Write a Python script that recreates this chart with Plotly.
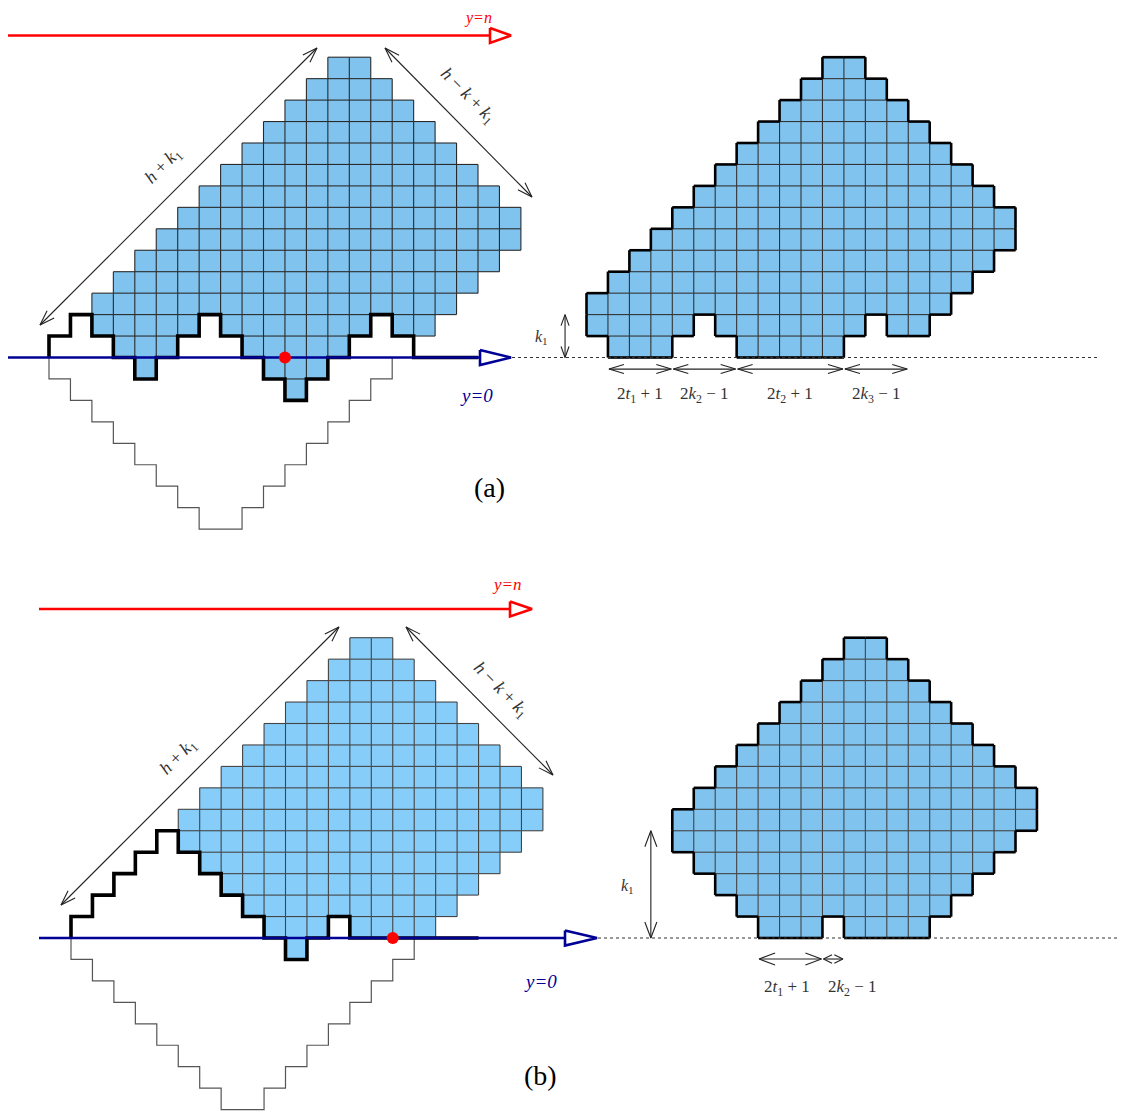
import math
import plotly.graph_objects as go

# ---------------- data (grid units: one unit = one cell) ----------------
# blue cells, as (row, first column, last column + 1); row 0 sits just above y=0
A_LEFT_ROWS = [(13, 13, 15), (12, 12, 16), (11, 11, 17), (10, 10, 18), (9, 9, 19),
               (8, 8, 20), (7, 7, 21), (6, 6, 22), (5, 5, 22), (4, 4, 21), (3, 3, 20),
               (2, 2, 19), (1, 2, 7), (1, 8, 15), (1, 16, 18), (0, 3, 6), (0, 9, 14),
               (-1, 4, 5), (-1, 10, 13), (-2, 11, 12)]
A_RIGHT_ROWS = [(13, 11, 13), (12, 10, 14), (11, 9, 15), (10, 8, 16), (9, 7, 17),
                (8, 6, 18), (7, 5, 19), (6, 4, 20), (5, 3, 20), (4, 2, 19), (3, 1, 18),
                (2, 0, 17), (1, 0, 5), (1, 6, 13), (1, 14, 16), (0, 1, 4), (0, 7, 12)]
B_LEFT_ROWS = [(13, 13, 15), (12, 12, 16), (11, 11, 17), (10, 10, 18), (9, 9, 19),
               (8, 8, 20), (7, 7, 21), (6, 6, 22), (5, 5, 22), (4, 5, 21), (3, 6, 20),
               (2, 7, 19), (1, 8, 18), (0, 9, 12), (0, 13, 17), (-1, 10, 11)]
B_RIGHT_ROWS = [(13, 8, 10), (12, 7, 11), (11, 6, 12), (10, 5, 13), (9, 4, 14),
                (8, 3, 15), (7, 2, 16), (6, 1, 17), (5, 0, 17), (4, 0, 16), (3, 1, 15),
                (2, 2, 14), (1, 3, 13), (0, 4, 7), (0, 8, 12)]

# thick lattice paths (vertices)
A_PATH = [(0, 0), (0, 1), (1, 1), (1, 2), (2, 2), (2, 1), (3, 1), (3, 0), (4, 0), (4, -1),
          (5, -1), (5, 0), (6, 0), (6, 1), (7, 1), (7, 2), (8, 2), (8, 1), (9, 1), (9, 0),
          (10, 0), (10, -1), (11, -1), (11, -2), (12, -2), (12, -1), (13, -1), (13, 0),
          (14, 0), (14, 1), (15, 1), (15, 2), (16, 2), (16, 1), (17, 1), (17, 0), (20, 0)]
B_PATH = [(0, 0), (0, 1), (1, 1), (1, 2), (2, 2), (2, 3), (3, 3), (3, 4), (4, 4), (4, 5),
          (5, 5), (5, 4), (6, 4), (6, 3), (7, 3), (7, 2), (8, 2), (8, 1), (9, 1), (9, 0),
          (10, 0), (10, -1), (11, -1), (11, 0), (12, 0), (12, 1), (13, 1), (13, 0), (19, 0)]
# thin reflected path below y=0 (same in both parts)
REFLECT_PATH = [(0, 0), (0, -1), (1, -1), (1, -2), (2, -2), (2, -3), (3, -3), (3, -4),
                (4, -4), (4, -5), (5, -5), (5, -6), (6, -6), (6, -7), (7, -7), (7, -8),
                (9, -8), (9, -7), (10, -7), (10, -6), (11, -6), (11, -5), (12, -5),
                (12, -4), (13, -4), (13, -3), (14, -3), (14, -2), (15, -2), (15, -1),
                (16, -1), (16, 0)]
A_DOT = (11, 0)
B_DOT = (15, 0)

# dimension arrows of the right-hand pictures (grid units) and their labels
A_SPANS = [(1, 4), (4, 7), (7, 12), (12, 15)]
A_SPAN_LABELS = ["2<i>t</i><sub>1</sub> + 1", "2<i>k</i><sub>2</sub> − 1",
                 "2<i>t</i><sub>2</sub> + 1", "2<i>k</i><sub>3</sub> − 1"]
B_SPANS = [(4, 7), (7, 8)]
B_SPAN_LABELS = ["2<i>t</i><sub>1</sub> + 1", "2<i>k</i><sub>2</sub> − 1"]
A_K1 = 2
B_K1 = 5

# ---------------- layout (pixels) ----------------
W, H = 1126, 1111
PAGE_PAD = 8  # default body margin of the written page
CELL = 21.45
ORIG = {"aL": (49.0, 357.5), "aR": (586.5, 357.5), "bL": (71.0, 938.0), "bR": (672.3, 938.0)}

BLUE_A = "#80C3EE"
BLUE_B = "#87CDF9"
NAVY = "#000096"
RED = "#FF0000"
SERIF = "Liberation Serif"

fig = go.Figure()


def P(panel, gx, gy):
    ox, oy = ORIG[panel]
    return ox + CELL * gx, oy - CELL * gy


def add_lines(xs, ys, color, width, dash=None, fill=None, fillcolor=None):
    fig.add_trace(go.Scatter(x=xs, y=ys, mode="lines", hoverinfo="skip",
                             line=dict(color=color, width=width, dash=dash),
                             fill=fill, fillcolor=fillcolor, showlegend=False))


def cells(rows):
    out = []
    for r, c0, c1 in rows:
        for c in range(c0, c1):
            out.append((r, c))
    return out


def draw_cells(panel, rows, fillcolor, gridcolor, gridw, border=None):
    xs, ys = [], []
    for r, c0, c1 in rows:
        for gx, gy in [(c0, r), (c1, r), (c1, r + 1), (c0, r + 1), (c0, r)]:
            x, y = P(panel, gx, gy)
            xs.append(x)
            ys.append(y)
        xs.append(None)
        ys.append(None)
    add_lines(xs, ys, "rgba(0,0,0,0)", 0, fill="toself", fillcolor=fillcolor)
    count = {}
    for r, c in cells(rows):
        for e in [((c, r), (c + 1, r)), ((c, r + 1), (c + 1, r + 1)),
                  ((c, r), (c, r + 1)), ((c + 1, r), (c + 1, r + 1))]:
            count[e] = count.get(e, 0) + 1
    gx_, gy_, bx_, by_ = [], [], [], []
    for (a, b), n in count.items():
        x0, y0 = P(panel, *a)
        x1, y1 = P(panel, *b)
        gx_ += [x0, x1, None]
        gy_ += [y0, y1, None]
        if n == 1:
            bx_ += [x0, x1, None]
            by_ += [y0, y1, None]
    add_lines(gx_, gy_, gridcolor, gridw)
    if border:
        add_lines(bx_, by_, border[0], border[1])


def draw_path(panel, pts, color, width):
    xs, ys = zip(*[P(panel, *p) for p in pts])
    add_lines(list(xs), list(ys), color, width)


def axis_arrow(x0, x1, y, color, head_len, half_h, width):
    add_lines([x0, x1 - head_len], [y, y], color, width)
    add_lines([x1 - head_len, x1, x1 - head_len, x1 - head_len],
              [y - half_h, y, y + half_h, y - half_h], color, width,
              fill="toself", fillcolor="white")


def vhead(tip, frm, length, half_w):
    dx, dy = tip[0] - frm[0], tip[1] - frm[1]
    L = math.hypot(dx, dy)
    ux, uy = dx / L, dy / L
    bx, by = tip[0] - ux * length, tip[1] - uy * length
    px, py = -uy, ux
    return ([bx + px * half_w, tip[0], bx - px * half_w, None],
            [by + py * half_w, tip[1], by - py * half_w, None])


def dbl_arrow(p0, p1, color="#222222", width=1.1, length=14, half_w=5):
    xs, ys = [p0[0], p1[0], None], [p0[1], p1[1], None]
    for tip, frm in [(p1, p0), (p0, p1)]:
        hx, hy = vhead(tip, frm, length, half_w)
        xs += hx
        ys += hy
    add_lines(xs, ys, color, width)


def label(x, y, text, size=17, color="#333333", angle=0, italic=False):
    fig.add_annotation(x=x, y=y, text=text, showarrow=False, textangle=angle,
                       font=dict(family=SERIF, size=size, color=color,
                                 style="italic" if italic else "normal"),
                       xanchor="center", yanchor="middle")


# ================= part (a) =================
draw_cells("aL", A_LEFT_ROWS, BLUE_A, "#2a2a2a", 1.1)
draw_path("aL", REFLECT_PATH, "#555555", 1.2)
axis_arrow(8, 511, 35.5, RED, 21, 7.5, 2.6)
draw_path("aL", A_PATH, "black", 3.6)
axis_arrow(8, 511, 357.5, NAVY, 31, 7.5, 2.6)
dx, dy = P("aL", *A_DOT)
fig.add_trace(go.Scatter(x=[dx], y=[dy], mode="markers", hoverinfo="skip", showlegend=False,
                         marker=dict(color=RED, size=12)))
dbl_arrow((40, 325), (317, 48), length=15, half_w=5)
dbl_arrow((385, 48), (532, 197), length=15, half_w=5)
label(163, 166, "<i>h</i> + <i>k</i><sub>1</sub>", size=18, angle=-45)
label(478, 18, "y=n", size=16, color=RED, italic=True)
label(468, 96, "<i>h</i> − <i>k</i> + <i>k</i><sub>1</sub>", size=18, angle=45)
label(476, 395, "y=0", size=19, color=NAVY, italic=True)
label(489, 487, "(a)", size=28, color="black")

draw_cells("aR", A_RIGHT_ROWS, BLUE_A, "#333333", 1.1, border=("black", 2.6))
add_lines([512, 1100], [357.5, 357.5], "#333333", 1.2, dash="dot")
kx, ky0 = P("aR", -1, 0)
_, ky1 = P("aR", -1, A_K1)
dbl_arrow((kx, ky1), (kx, ky0), length=11, half_w=4)
label(kx - 24, (ky0 + ky1) / 2 + 1, "<i>k</i><sub>1</sub>", size=16)
for (c0, c1), txt in zip(A_SPANS, A_SPAN_LABELS):
    x0, y = P("aR", c0, -0.54)
    x1, _ = P("aR", c1, -0.54)
    dbl_arrow((x0 + 1, y), (x1 - 1, y), length=15, half_w=4.5)
    label((x0 + x1) / 2, 395, txt, size=17)

# ================= part (b) =================
draw_cells("bL", B_LEFT_ROWS, BLUE_B, "#444444", 1.1)
draw_path("bL", REFLECT_PATH, "#555555", 1.2)
axis_arrow(39, 532, 609, RED, 22, 7.5, 2.6)
draw_path("bL", B_PATH, "black", 3.6)
axis_arrow(39, 597, 938, NAVY, 32, 7.5, 2.6)
dx, dy = P("bL", *B_DOT)
fig.add_trace(go.Scatter(x=[dx], y=[dy], mode="markers", hoverinfo="skip", showlegend=False,
                         marker=dict(color=RED, size=12)))
dbl_arrow((61, 905), (339, 627), length=15, half_w=5)
dbl_arrow((406, 627), (553, 775), length=15, half_w=5)
label(178, 757, "<i>h</i> + <i>k</i><sub>1</sub>", size=18, angle=-45)
label(501, 690, "<i>h</i> − <i>k</i> + <i>k</i><sub>1</sub>", size=18, angle=45)
label(507, 584, "y=n", size=17, color=RED, italic=True)
label(540, 981, "y=0", size=19, color=NAVY, italic=True)
label(540, 1075, "(b)", size=28, color="black")

draw_cells("bR", B_RIGHT_ROWS, BLUE_A, "#444444", 1.1, border=("black", 2.6))
add_lines([598, 1126], [938, 938], "#333333", 1.2, dash="dot")
kx, ky0 = P("bR", -1, 0)
_, ky1 = P("bR", -1, B_K1)
dbl_arrow((kx, ky1), (kx, ky0), length=16, half_w=6)
label(kx - 23, (ky0 + ky1) / 2 + 2, "<i>k</i><sub>1</sub>", size=16)
for (c0, c1), txt, lx in zip(B_SPANS, B_SPAN_LABELS, [-0.15, 0.9]):
    x0, y = P("bR", c0, -0.98)
    x1, _ = P("bR", c1, -0.98)
    L = x1 - x0
    dbl_arrow((x0 + 1, y), (x1 - 1, y), length=min(16, L * 0.4), half_w=min(6, L * 0.2))
    label((x0 + x1) / 2 + lx * CELL, 988, txt, size=17)

# the page puts the plot PAGE_PAD pixels in from the window corner; shift ranges to match
fig.update_layout(
    width=W, height=H, margin=dict(l=0, r=0, t=0, b=0),
    paper_bgcolor="white", plot_bgcolor="white", showlegend=False,
    xaxis=dict(range=[PAGE_PAD, W + PAGE_PAD], visible=False, fixedrange=True),
    yaxis=dict(range=[H + PAGE_PAD, PAGE_PAD], visible=False, fixedrange=True),
)
fig.write_html("out.html")
